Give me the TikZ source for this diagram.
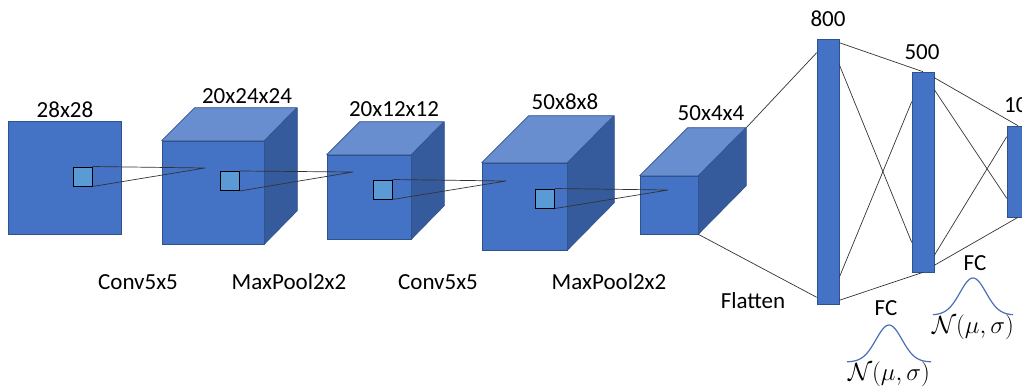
\documentclass[tikz,border=0pt]{standalone}
\usepackage{fontspec}
\setmainfont{Carlito}
\definecolor{cnnblue}{HTML}{4472C4}
\definecolor{cnntop}{HTML}{698ED0}
\definecolor{cnnside}{HTML}{365B9D}
\definecolor{cnnedge}{HTML}{2F528F}
\definecolor{cnnkern}{HTML}{5B9BD5}
\definecolor{cnncurve}{HTML}{4A6FB5}
\begin{document}
\begin{tikzpicture}[x=1pt,y=-1pt,
    font=\fontsize{23}{27}\selectfont,
    face/.style={draw=cnnedge,fill=cnnblue,line width=0.6pt,inner sep=0pt},
    topface/.style={draw=cnnedge,fill=cnntop,line width=0.6pt,line join=round},
    sideface/.style={draw=cnnedge,fill=cnnside,line width=0.6pt,line join=round},
    kernel/.style={draw=black,fill=cnnkern,line width=1pt,minimum size=19pt,inner sep=0pt},
    bar/.style={face,minimum width=22pt},
    link/.style={draw=black!80,line width=0.7pt},
    lbl/.style={inner sep=0pt},
    gauss/.style={draw=cnncurve,line width=1.2pt}]
    \clip (0,0) rectangle (1022,389);

    % input image
    \node[face,minimum width=113pt,minimum height=113pt] (img) at (64.5,177.5) {};

    % feature maps: name/x/y/width/height/depth
    \foreach \n/\x/\y/\w/\h/\d in {c1/213/192.5/102/103/33,
        c2/369/197/84/84/33, c3/524.5/206.5/85/87/47, c4/669/205/58/58/48}{
        \node[face,minimum width=\w pt,minimum height=\h pt] (\n) at (\x,\y) {};
        \draw[topface] (\n.north west) -- ++(\d,-\d) -- ++(\w,0) -- (\n.north east) -- cycle;
        \draw[sideface] (\n.north east) -- ++(\d,-\d) -- ++(0,\h) -- (\n.south east) -- cycle;
        \coordinate (\n-back) at ([shift={(\d,-\d)}]\n.north east);
    }

    % kernels and their receptive fields
    \foreach \n/\x/\y in {k0/82.5/176.5,k1/229.5/181,k2/382.5/189.5,k3/545/198.5}
        \node[kernel] (\n) at (\x,\y) {};
    \coordinate (a1) at (205,168);
    \coordinate (a2) at (353,172);
    \coordinate (a3) at (506,181);
    \coordinate (a4) at (668,190);
    \foreach \k/\a in {k0/a1,k1/a2,k2/a3,k3/a4}
        \draw[link] (\k.north east) -- (\a) -- (\k.south east);

    % fully connected layers
    \node[bar,minimum height=265pt] (f800) at (828,171.5) {};
    \node[bar,minimum height=200pt] (f500) at (923,172) {};
    \node[bar,minimum height=91pt] (f10) at (1018,171.5) {};

    \draw[link] (c4-back) -- ([yshift=-14pt]f800.north west);
    \draw[link] (c4.south east) -- ([yshift=7pt]f800.south west);

    \draw[link] ([yshift=-4pt]f800.north east) -- (f500.north);
    \draw[link] ([yshift=-26pt]f800.north east) -- ([yshift=30pt]f500.south west);
    \draw[link] ([yshift=27pt]f800.south east) -- ([yshift=-30pt]f500.north west);
    \draw[link] ([yshift=4pt]f800.south east) -- (f500.south);

    \draw[link] ([yshift=-6pt]f500.north east) -- (f10.north);
    \draw[link] ([yshift=-18pt]f500.north east) -- ([yshift=19pt]f10.south west);
    \draw[link] ([yshift=17pt]f500.south east) -- ([yshift=-11pt]f10.north west);
    \draw[link] ([yshift=7pt]f500.south east) -- (f10.south);

    % sizes
    \node[lbl] (s0) at (65,110) {28x28};
    \node[lbl] (s1) at (247,96) {20x24x24};
    \node[lbl] (s2) at (394,109) {20x12x12};
    \node[lbl] (s3) at (565,102) {50x8x8};
    \node[lbl] (s4) at (711,113) {50x4x4};
    \node[lbl] (s5) at (828,19) {800};
    \node[lbl] (s6) at (922,52) {500};
    \node[lbl,anchor=west] (s7) at (1004,105) {10};

    % operations
    \node[lbl] (o1) at (138,282) {Conv5x5};
    \node[lbl] (o2) at (289,282) {MaxPool2x2};
    \node[lbl] (o3) at (438,282) {Conv5x5};
    \node[lbl] (o4) at (609,282) {MaxPool2x2};
    \node[lbl] (o5) at (753,301) {Flatten};
    \node[lbl] (o6) at (886,308) {FC};
    \node[lbl] (o7) at (975,263) {FC};

    % weight priors
    \draw[gauss] plot[domain=-42:42,samples=61] ({889+\x},{362-37*exp(-\x*\x/338)});
    \draw[gauss] plot[domain=-40:40,samples=61] ({973+\x},{315-37*exp(-\x*\x/338)});
    \node[lbl,font=\fontsize{24}{28}\selectfont] (p1) at (889,374) {$\mathcal{N}(\mu,\sigma)$};
    \node[lbl,font=\fontsize{24}{28}\selectfont] (p2) at (973,327) {$\mathcal{N}(\mu,\sigma)$};
\end{tikzpicture}
\end{document}
